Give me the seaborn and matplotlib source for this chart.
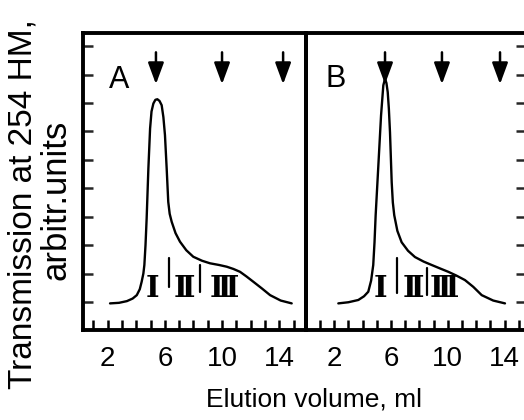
import matplotlib
matplotlib.use("Agg")
import matplotlib.pyplot as plt
import seaborn as sns
import pandas as pd

# ---------------- data ----------------
vol_A = [2.17, 2.8, 3.35, 3.75, 4.04, 4.25, 4.38, 4.5, 4.57, 4.65, 4.73, 4.85, 4.97,
         5.07, 5.2, 5.34, 5.48, 5.63, 5.78, 5.9, 6.01, 6.13, 6.24, 6.34, 6.48, 6.75,
         7.06, 7.5, 7.99, 8.6, 9.16, 9.8, 10.33, 10.8, 11.26, 11.7, 12.19, 12.8,
         13.36, 14.1, 14.87]
sig_A = [0.95, 0.97, 1.03, 1.12, 1.24, 1.45, 1.71, 2.0, 2.3, 3.0, 3.94, 5.69, 7.1,
         7.7, 7.98, 8.11, 8.13, 8.07, 7.92, 7.5, 6.87, 5.69, 4.52, 4.1, 3.82, 3.42,
         3.12, 2.82, 2.59, 2.45, 2.36, 2.3, 2.24, 2.16, 2.06, 1.9, 1.71, 1.47,
         1.24, 1.05, 0.95]

vol_B = [2.29, 3.0, 3.70, 4.1, 4.40, 4.6, 4.75, 4.84, 4.92, 5.11, 5.30, 5.46, 5.58,
         5.68, 5.77, 5.85, 5.93, 6.05, 6.13, 6.23, 6.45, 6.75, 7.2, 7.69, 8.3, 8.87,
         9.45, 10.04, 10.6, 11.21, 11.8, 12.39, 13.2, 14.03]
sig_B = [0.95, 0.99, 1.07, 1.2, 1.36, 1.75, 2.3, 3.1, 4.05, 5.8, 7.56, 8.62, 8.85,
         8.7, 8.38, 7.8, 6.97, 5.21, 4.5, 4.05, 3.5, 3.1, 2.8, 2.58, 2.42, 2.3,
         2.18, 2.06, 1.93, 1.77, 1.53, 1.24, 1.05, 0.95]

arrows_A = [5.38, 10.0, 14.27]
arrows_B = [5.58, 9.59, 13.68]

numerals = ["\u2160", "\u2161", "\u2162"]
numeral_x_A = [5.14, 7.36, 10.14]
numeral_x_B = [5.27, 7.55, 9.75]

sep_x_A = [6.29, 8.47]
sep_lo_A = [1.52, 1.35]
sep_hi_A = [2.53, 2.30]
sep_x_B = [6.40, 8.51]
sep_lo_B = [1.31, 1.24]
sep_hi_B = [2.53, 2.18]

xtick_labels = [2, 6, 10, 14]
minor_ticks = list(range(1, 16))
ytick_vals = list(range(1, 11))

panel_labels = ["A", "B"]

# ---------------- figure ----------------
sns.set_style("white")
plt.rcParams["font.family"] = ["Liberation Sans", "DejaVu Sans"]

fig = plt.figure(figsize=(5.24, 4.20), dpi=100)
bottom = (420 - 330.4) / 420
height = (330.4 - 33) / 420
axA = fig.add_axes([83 / 524, bottom, (306 - 83) / 524, height])
axB = fig.add_axes([306 / 524, bottom, (526 - 306) / 524, height])

panels = [
    (axA, vol_A, sig_A, arrows_A, numeral_x_A, sep_x_A, sep_lo_A, sep_hi_A, (0.28, 15.87), (2.8, 8.8), "left"),
    (axB, vol_B, sig_B, arrows_B, numeral_x_B, sep_x_B, sep_lo_B, sep_hi_B, (0.014, 15.51), (2.13, 8.85), "right"),
]

for i, (ax, vx, vy, arr, nx, sx, slo, shi, xl, lab_xy, yside) in enumerate(panels):
    ax.patch.set_alpha(0)
    df = pd.DataFrame({"vol": vx, "sig": vy})
    sns.lineplot(data=df, x="vol", y="sig", ax=ax, color="black", lw=1.7,
                 sort=False, estimator=None, solid_joinstyle="round",
                 solid_capstyle="round")
    ax.set_xlim(*xl)
    ax.set_ylim(0, 10.46)
    ax.set_xlabel("")
    ax.set_ylabel("")

    # arrows
    for a in arr:
        ax.annotate("", xy=(a, 8.66), xytext=(a, 9.78),
                    arrowprops=dict(arrowstyle="-|>,head_length=0.65,head_width=0.24",
                                    lw=1.8, color="black", mutation_scale=20,
                                    shrinkA=0, shrinkB=0))
    # fraction numerals
    for t, x in zip(numerals, nx):
        ax.text(x, 0.98, t, ha="center", va="bottom", fontsize=21,
                family=["DejaVu Serif"], fontweight="bold", color="black")
    for x, lo, hi in zip(sx, slo, shi):
        ax.plot([x, x], [lo, hi], color="black", lw=1.6)

    ax.text(lab_xy[0], lab_xy[1], panel_labels[i], ha="center", va="center",
            fontsize=22, color="black")

    # ticks
    ax.set_xticks(xtick_labels)
    ax.set_xticklabels([str(v) for v in xtick_labels], fontsize=20)
    ax.set_xticks(minor_ticks, minor=True)
    ax.tick_params(axis="x", which="both", direction="in", length=7, width=1.8,
                   bottom=True, top=False, pad=11, colors="black")
    ax.set_yticks(ytick_vals)
    ax.set_yticklabels([])
    if yside == "left":
        ax.tick_params(axis="y", direction="in", length=7, width=1.8,
                       left=True, right=False, labelleft=False)
    else:
        ax.tick_params(axis="y", direction="in", length=7, width=1.8,
                       left=False, right=True, labelleft=False, labelright=False)
    for s in ax.spines.values():
        s.set_linewidth(2.8)
        s.set_color("black")
        s.set_visible(True)

fig.text(314 / 524, 1 - 399 / 420, "Elution volume, ml", ha="center", va="center",
         fontsize=19, color="black")
fig.text(23 / 524, 1 - 204 / 420, "Transmission at 254 HM,", ha="center", va="center",
         rotation=90, fontsize=24, color="black")
fig.text(56 / 524, 1 - 200 / 420, "arbitr.units", ha="center", va="center",
         rotation=90, fontsize=25, color="black")

fig.savefig("out.png", dpi=100, facecolor="white")
